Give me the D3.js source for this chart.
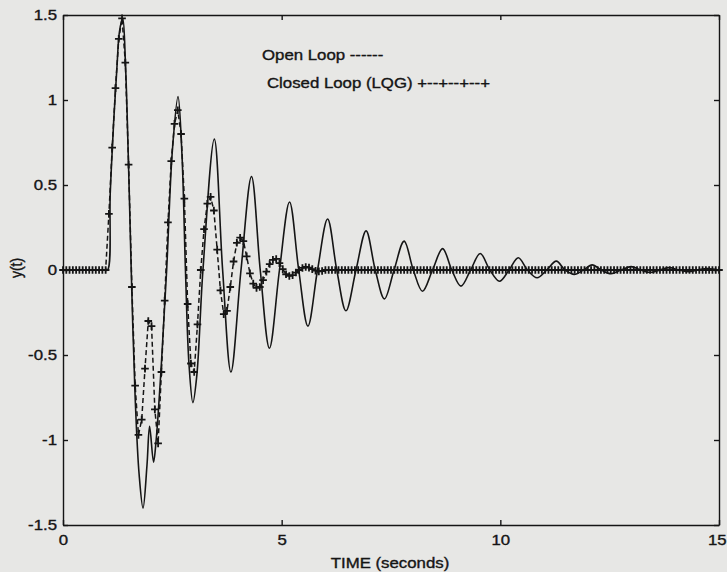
<!DOCTYPE html>
<html>
<head>
<meta charset="utf-8">
<script src="https://cdn.jsdelivr.net/npm/d3@7"></script>
<style>
  html, body { margin: 0; padding: 0; background: #e7e7e5; }
  svg { display: block; }
  text { font-family: "Liberation Sans", Arial, sans-serif; font-size: 14px; fill: #151515; stroke: #151515; stroke-width: 0.35; }
  .axis path, .axis line { stroke: #151515; stroke-width: 1.4; }
</style>
</head>
<body>
<div id="chart"></div>
<script>
// ticks
const xTicks = [0, 5, 10, 15];
const yTicks = [-1.5, -1, -0.5, 0, 0.5, 1, 1.5];

// open loop response (read at peaks / zero crossings)
const openT = [0, 0.95, 1.02, 1.08, 1.16, 1.235, 1.29, 1.365, 1.43, 1.5, 1.56, 1.65, 1.74, 1.83, 1.92, 1.98,
  2.07, 2.13, 2.25, 2.37, 2.5, 2.63, 2.72, 2.8, 2.88, 2.97, 3.06, 3.2, 3.46, 3.65, 3.84, 4.07, 4.31, 4.51,
  4.72, 4.95, 5.18, 5.39, 5.6, 5.82, 6.05, 6.26, 6.47, 6.7, 6.93, 7.14, 7.35, 7.57, 7.8, 8.01, 8.22, 8.45,
  8.68, 8.89, 9.1, 9.32, 9.54, 9.76, 9.98, 10.2, 10.41, 10.62, 10.84, 11.06, 11.28, 11.48, 11.69, 11.9,
  12.1, 12.31, 12.53, 12.76, 12.99, 13.21, 13.43, 13.65, 13.86, 14.08, 14.3, 14.52, 14.73, 15];
const openY = [0, 0, 0, 0.45, 0.88, 1.2, 1.4, 1.48, 1.2, 0.6, 0, -0.75, -1.2, -1.4, -1.15, -0.92,
  -1.13, -1.0, -0.55, 0, 0.7, 1.02, 0.68, 0, -0.55, -0.78, -0.62, 0, 0.77, 0, -0.6, 0, 0.55, 0,
  -0.46, 0, 0.4, 0, -0.33, 0, 0.3, 0, -0.24, 0, 0.23, 0, -0.17, 0, 0.17, 0, -0.125, 0,
  0.126, 0, -0.095, 0, 0.097, 0, -0.066, 0, 0.072, 0, -0.046, 0, 0.052, 0, -0.026, 0,
  0.03, 0, -0.022, 0, 0.02, 0, -0.015, 0, 0.014, 0, -0.01, 0, 0.009, 0];

// closed loop (LQG), one sample every closedStep seconds from t = 0
const closedStep = 0.075;
const closedY = [
  0, 0, 0, 0, 0, 0, 0, 0, 0, 0, 0, 0, 0, 0,
  0.33, 0.72, 1.07, 1.36, 1.48, 1.22, 0.62,
  -0.1, -0.68, -0.97, -0.88, -0.58, -0.3, -0.33, -0.82, -1.02, -0.6,
  -0.18, 0.28, 0.64, 0.86, 0.94, 0.8, 0.42, -0.2, -0.55, -0.6,
  -0.32, 0, 0.24, 0.39, 0.43, 0.35, 0.12, -0.12, -0.26, -0.24,
  -0.1, 0.05, 0.16, 0.19, 0.17, 0.08, -0.02, -0.08, -0.105, -0.1,
  -0.06, -0.01, 0.035, 0.06, 0.065, 0.04, 0.005, -0.025, -0.035, -0.03,
  -0.015, 0, 0.012, 0.018, 0.014, 0.005, -0.004, -0.008, -0.006,
  0, 0, 0, 0, 0, 0, 0, 0, 0, 0, 0,
  0, 0, 0, 0, 0, 0, 0, 0, 0, 0, 0,
  0, 0, 0, 0, 0, 0, 0, 0, 0, 0, 0,
  0, 0, 0, 0, 0, 0, 0, 0, 0, 0, 0,
  0, 0, 0, 0, 0, 0, 0, 0, 0, 0, 0,
  0, 0, 0, 0, 0, 0, 0, 0, 0, 0, 0,
  0, 0, 0, 0, 0, 0, 0, 0, 0, 0, 0,
  0, 0, 0, 0, 0, 0, 0, 0, 0, 0, 0,
  0, 0, 0, 0, 0, 0, 0, 0, 0, 0, 0,
  0, 0, 0, 0, 0, 0, 0, 0, 0, 0, 0,
  0, 0, 0, 0, 0, 0, 0, 0, 0, 0, 0
];

const legendLines = ['Open Loop ------', 'Closed Loop (LQG) +--+--+--+'];

const width = 727, height = 572;
const margin = { top: 15, right: 8, bottom: 47, left: 63 };
const stretch = 'scale(1.2,1)'; // scanned figure is a bit wider than tall

const svg = d3.select('#chart').append('svg')
  .attr('width', width)
  .attr('height', height);

const x = d3.scaleLinear().domain([0, 15]).range([margin.left, width - margin.right]);
const y = d3.scaleLinear().domain([-1.5, 1.5]).range([height - margin.bottom, margin.top]);

// axes, ticks pointing in
const xAxis = svg.append('g').attr('class', 'axis')
  .attr('transform', `translate(0,${y(-1.5)})`)
  .call(d3.axisBottom(x).tickValues(xTicks).tickSizeInner(-5).tickSizeOuter(0).tickPadding(10).tickFormat(d => String(d)));
xAxis.selectAll('text').attr('transform', stretch);
// last label sits on the page edge: right-align it
xAxis.selectAll('text').filter(d => d === 15)
  .attr('text-anchor', 'end')
  .attr('x', 6);

svg.append('g').attr('class', 'axis')
  .attr('transform', `translate(${x(0)},0)`)
  .call(d3.axisLeft(y).tickValues(yTicks).tickSizeInner(-5).tickSizeOuter(0).tickPadding(5).tickFormat(d => String(d)))
  .selectAll('text').attr('transform', stretch);

svg.append('g').attr('class', 'axis')
  .attr('transform', `translate(0,${y(1.5)})`)
  .call(d3.axisTop(x).tickValues(xTicks).tickSizeInner(-5).tickSizeOuter(0).tickFormat(''));

svg.append('g').attr('class', 'axis')
  .attr('transform', `translate(${x(15)},0)`)
  .call(d3.axisRight(y).tickValues(yTicks).tickSizeInner(-5).tickSizeOuter(0).tickFormat(''));

// open loop, solid
const openData = openT.map((t, i) => [t, openY[i]]);
svg.append('path')
  .datum(openData)
  .attr('fill', 'none')
  .attr('stroke', '#151515')
  .attr('stroke-width', 1.6)
  .attr('d', d3.line().x(d => x(d[0])).y(d => y(d[1])).curve(d3.curveCatmullRom.alpha(0.5)));

// closed loop, dashed with + markers
const closedData = closedY.map((v, i) => [i * closedStep, v]);
svg.append('path')
  .datum(closedData)
  .attr('fill', 'none')
  .attr('stroke', '#151515')
  .attr('stroke-width', 1.5)
  .attr('stroke-dasharray', '5,3')
  .attr('d', d3.line().x(d => x(d[0])).y(d => y(d[1])));

svg.append('g')
  .selectAll('path')
  .data(closedData)
  .join('path')
  .attr('transform', d => `translate(${x(d[0])},${y(d[1])})`)
  .attr('d', 'M-3.8,0H3.8M0,-3.8V3.8')
  .attr('stroke', '#151515')
  .attr('stroke-width', 1.8);

// legend text (typed inside the plot, as in the original)
svg.append('text')
  .attr('transform', `translate(262,60) ${stretch}`)
  .text(legendLines[0]);
svg.append('text')
  .attr('transform', `translate(267,88) ${stretch}`)
  .text(legendLines[1]);

// axis titles
svg.append('text')
  .attr('transform', `translate(390,568) ${stretch}`)
  .attr('text-anchor', 'middle')
  .text('TIME (seconds)');

svg.append('text')
  .attr('transform', 'translate(22,268) rotate(-90) scale(1,1.2)')
  .attr('text-anchor', 'middle')
  .text('y(t)');
</script>
</body>
</html>
